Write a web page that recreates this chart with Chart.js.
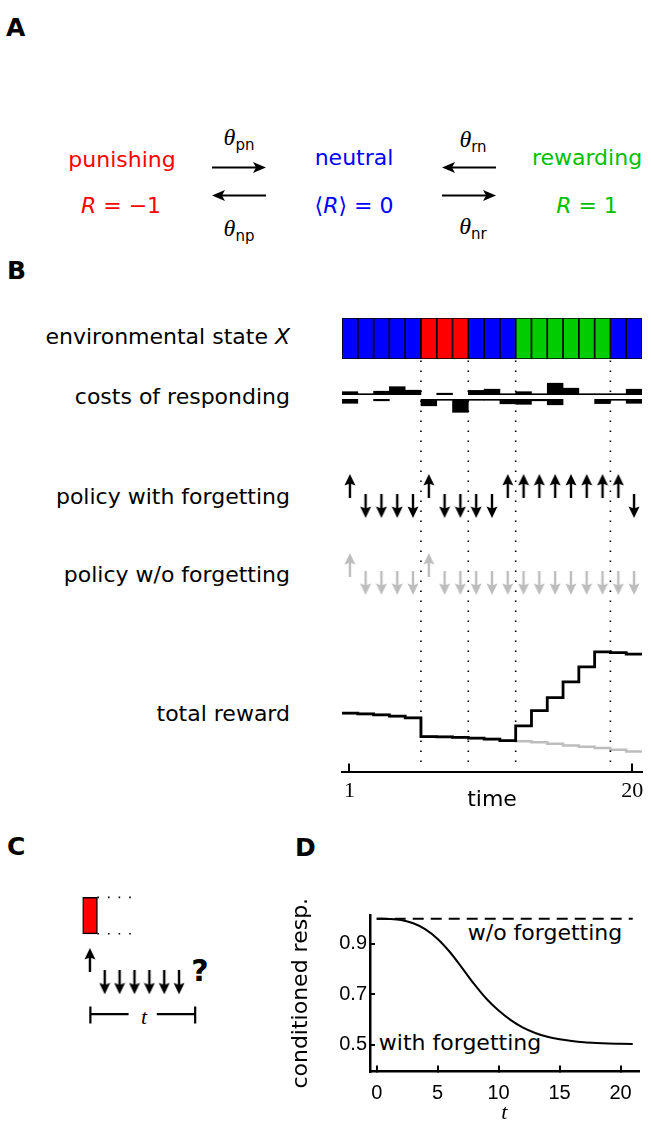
<!DOCTYPE html>
<html>
<head>
<meta charset="utf-8">
<script src="https://cdn.jsdelivr.net/npm/chart.js"></script>
<style>
body { margin: 0; background: #fff; }
#fig { position: relative; width: 651px; height: 1135px; overflow: hidden; font-family: "DejaVu Sans", sans-serif; color: #000; }
#fig canvas { position: absolute; }
.t { position: absolute; white-space: nowrap; font-size: 22px; line-height: 1; transform: translate(-50%, -50%); }
.row { position: absolute; white-space: nowrap; font-size: 22px; line-height: 1; transform: translateY(-50%); right: 361px; }
.lab { position: absolute; font-weight: bold; font-size: 25px; line-height: 1; transform: translateY(-50%); }
.th { font-family: "Liberation Serif", serif; font-style: italic; font-size: 24px; }
.th sub { font-family: "DejaVu Sans", sans-serif; font-style: normal; font-size: 15px; vertical-align: -5px; }
.red { color: #ff0000; } .blue { color: #0000ff; } .green { color: #00c000; }
</style>
</head>
<body>
<div id="fig">
  <!-- panel A -->
  <div class="lab" style="left:6px;top:27px">A</div>
  <div class="t red" style="left:122px;top:160px">punishing</div>
  <div class="t red" style="left:121px;top:206px"><i>R</i> = −1</div>
  <div class="t blue" style="left:354px;top:158px">neutral</div>
  <div class="t blue" style="left:354px;top:206px">⟨<i>R</i>⟩ = 0</div>
  <div class="t green" style="left:587px;top:158px">rewarding</div>
  <div class="t green" style="left:587px;top:206px"><i>R</i> = 1</div>
  <div class="t th" style="left:239px;top:139px">θ<sub>pn</sub></div>
  <div class="t th" style="left:239px;top:230px">θ<sub>np</sub></div>
  <div class="t th" style="left:473px;top:141px">θ<sub>rn</sub></div>
  <div class="t th" style="left:473px;top:228px">θ<sub>nr</sub></div>
  <svg width="651" height="260" style="position:absolute;left:0;top:0">
    <g stroke="#000" stroke-width="2">
      <line x1="212" y1="167.5" x2="258" y2="167.5"/>
      <line x1="220" y1="195.5" x2="266" y2="195.5"/>
      <line x1="450" y1="167.5" x2="496" y2="167.5"/>
      <line x1="442" y1="195.5" x2="488" y2="195.5"/>
    </g>
    <g fill="#000">
      <polygon points="266,167.5 253,162 256,167.5 253,173"/>
      <polygon points="212,195.5 225,190 222,195.5 225,201"/>
      <polygon points="442,167.5 455,162 452,167.5 455,173"/>
      <polygon points="496,195.5 483,190 486,195.5 483,201"/>
    </g>
  </svg>

  <!-- panel B -->
  <div class="lab" style="left:7px;top:270px">B</div>
  <div class="row" style="top:337px">environmental state <i>X</i></div>
  <div class="row" style="top:397px">costs of responding</div>
  <div class="row" style="top:497px">policy with forgetting</div>
  <div class="row" style="top:575px">policy w/o forgetting</div>
  <div class="row" style="top:714px">total reward</div>

  <!-- panel C -->
  <div class="lab" style="left:7px;top:846px">C</div>
  <div class="t" style="left:200px;top:971px;font-weight:bold;font-size:30px">?</div>
  <div class="t" style="left:144px;top:1017px;font-family:'Liberation Serif',serif;font-style:italic">t</div>

  <!-- panel D -->
  <div class="lab" style="left:295px;top:847px">D</div>
  <div class="t" style="left:545px;top:933px">w/o forgetting</div>
  <div class="t" style="left:460px;top:1043px">with forgetting</div>
</div>

<script>
// ---- panel B: 19 time steps ----
const cells = ['1', '2', '3', '4', '5', '6', '7', '8', '9', '10', '11', '12', '13', '14', '15', '16', '17', '18', '19'];
// n = neutral, p = punishing, r = rewarding
const stateSeq = ['n', 'n', 'n', 'n', 'n', 'p', 'p', 'p', 'n', 'n', 'n', 'r', 'r', 'r', 'r', 'r', 'r', 'n', 'n'];
const costTop = [3, 1, 3.5, 8, 4.5, 0, 1.5, 0, 4.3, 5.5, 1, 3, 1, 11.5, 6.5, 1, 1, 1, 5.5];
const costBottom = [4, 0, 1.5, 0, 0, 6.5, 1, 13, 1, 1, 4.5, 5, 1.5, 5.5, 0, 0, 4.3, 1, 4];
// 1 = respond (up arrow), -1 = withhold (down arrow)
const policyForget = [1, -1, -1, -1, -1, 1, -1, -1, -1, -1, 1, 1, 1, 1, 1, 1, 1, 1, -1];
const policyNoForget = [1, -1, -1, -1, -1, 1, -1, -1, -1, -1, -1, -1, -1, -1, -1, -1, -1, -1, -1];
const rewardForget = [0, -0.05, -0.11, -0.2, -0.31, -1.56, -1.58, -1.61, -1.67, -1.73, -1.83, -0.85, 0.17, 1.04, 2.1, 3.1, 4.1, 4.05, 3.95];
const rewardNoForget = [0, -0.05, -0.11, -0.2, -0.31, -1.56, -1.58, -1.61, -1.67, -1.73, -1.83, -1.88, -1.95, -2.05, -2.16, -2.25, -2.33, -2.45, -2.56];
const timeTicks = [1, 20];

// ---- panel C ----
const cState = ['p'];
const cPolicy = [1, -1, -1, -1, -1, -1, -1];

// ---- panel D ----
const dTimes = [0, 1, 2, 3, 4, 5, 6, 7, 8, 9, 10, 11, 12, 13, 14, 15, 16, 17, 18, 19, 20, 21];
const dForget = [1.0, 0.999, 0.995, 0.982, 0.958, 0.92, 0.868, 0.805, 0.74, 0.682, 0.635, 0.597, 0.567, 0.546, 0.531, 0.521, 0.514, 0.509, 0.506, 0.504, 0.503, 0.502];
const dNoForgetTimes = [0, 21];
const dNoForget = [1.0, 1.0];
const dXTicks = [0, 5, 10, 15, 20];
const dYTicks = [0.5, 0.7, 0.9];

Chart.defaults.animation = false;
Chart.defaults.responsive = false;
Chart.defaults.font.family = 'DejaVu Sans';
Chart.defaults.color = '#000';
Chart.defaults.plugins.legend.display = false;
Chart.defaults.plugins.tooltip.enabled = false;

const fig = document.getElementById('fig');
const stateColor = { n: '#0000ff', p: '#ff0000', r: '#00cc00' };
const PADB = { left: 20, right: 20, top: 0, bottom: 0 };

function mk(left, top, w, h) {
  const c = document.createElement('canvas');
  c.width = w; c.height = h;
  c.style.left = left + 'px'; c.style.top = top + 'px';
  c.style.width = w + 'px'; c.style.height = h + 'px';
  fig.appendChild(c);
  return c;
}
const hid = (min, max) => ({ type: 'linear', display: false, offset: false, min: min, max: max });

function arrowImg(color) {
  const c = document.createElement('canvas');
  c.width = 12; c.height = 24;
  const g = c.getContext('2d');
  g.fillStyle = color;
  g.beginPath();
  g.moveTo(6, 0); g.lineTo(11.5, 11.5); g.lineTo(6, 9.5); g.lineTo(0.5, 11.5);
  g.closePath(); g.fill();
  g.fillRect(4.8, 7, 2.4, 17);
  return c;
}
const upBlack = arrowImg('#000');
const upGray = arrowImg('#bdbdbd');

// environmental state bar
new Chart(mk(322, 318, 340, 41), {
  type: 'bar',
  data: {
    labels: cells,
    datasets: [{
      data: stateSeq.map(() => 1),
      backgroundColor: stateSeq.map(s => stateColor[s]),
      borderColor: '#000', borderWidth: 1.2, borderSkipped: false,
      barPercentage: 1, categoryPercentage: 1
    }]
  },
  options: { layout: { padding: PADB }, scales: { x: { display: false }, y: hid(0, 1) } }
});

// costs of responding (upper and lower rows)
const GAP = 2.3;
new Chart(mk(322, 377, 340, 40), {
  type: 'bar',
  data: {
    labels: cells,
    datasets: [
      { data: costTop.map(v => v ? [GAP, GAP + v] : null), backgroundColor: '#000', grouped: false, barPercentage: 1, categoryPercentage: 1 },
      { data: costBottom.map(v => v ? [-GAP - v, -GAP] : null), backgroundColor: '#000', grouped: false, barPercentage: 1, categoryPercentage: 1 }
    ]
  },
  options: { layout: { padding: PADB }, scales: { x: { display: false }, y: hid(-20, 20) } }
});

// policies
function policyChart(top, arr, img, ymax) {
  new Chart(mk(322, top, 340, 62), {
    type: 'scatter',
    data: {
      datasets: [{
        data: arr.map((d, i) => ({ x: i + 1, y: d })),
        pointStyle: img,
        rotation: c => arr[c.dataIndex] < 0 ? 180 : 0,
        clip: false
      }]
    },
    options: { layout: { padding: PADB }, scales: { x: hid(0.5, 19.5), y: hid(-ymax, ymax) } }
  });
}
policyChart(465, policyForget, upBlack, 2.6);
policyChart(543, policyNoForget, upGray, 2.9);

// total reward with time axis
const stepPts = arr => arr.map((v, i) => ({ x: i + 0.5, y: v })).concat([{ x: arr.length + 0.5, y: arr[arr.length - 1] }]);
new Chart(mk(322, 640, 340, 173), {
  type: 'line',
  data: {
    datasets: [
      { data: stepPts(rewardForget), borderColor: '#000', borderWidth: 2.8, stepped: 'before', pointRadius: 0, xAxisID: 'x', clip: false },
      { data: stepPts(rewardNoForget), borderColor: '#bdbdbd', borderWidth: 2.5, stepped: 'before', pointRadius: 0, xAxisID: 'x', clip: false }
    ]
  },
  options: {
    layout: { padding: PADB },
    scales: {
      x: hid(0.5, 19.5),
      y: hid(-3.9, 4.9),
      xt: {
        type: 'linear', position: 'bottom', min: 0.5, max: 20.65,
        afterBuildTicks: s => { s.ticks = timeTicks.map(v => ({ value: v })); },
        afterFit: s => { s.height = 41.5; },
        grid: { drawOnChartArea: false, tickLength: -8, color: '#000', lineWidth: 2 },
        border: { color: '#000', width: 2 },
        ticks: { padding: 14.3, autoSkip: false, maxRotation: 0, font: { family: 'Liberation Serif', size: 22 } },
        title: { display: true, text: 'time', font: { size: 22 }, padding: 0 }
      }
    }
  }
});

// dotted lines at state changes
const changes = [];
stateSeq.forEach((s, i) => { if (i && s !== stateSeq[i - 1]) changes.push(i + 0.5); });
new Chart(mk(322, 360, 340, 402), {
  type: 'line',
  data: {
    datasets: changes.map(b => ({
      data: [{ x: b, y: 0 }, { x: b, y: 1 }],
      borderColor: '#000', borderWidth: 1.6, borderDash: [1.6, 8.4], pointRadius: 0
    }))
  },
  options: { layout: { padding: PADB }, scales: { x: hid(0.5, 19.5), y: hid(0, 1) } }
});

// panel C schematic
new Chart(mk(75, 885, 150, 150), {
  type: 'scatter',
  data: {
    datasets: [
      {
        type: 'bar',
        data: cState.map((s, i) => ({ x: i + 1, y: [6.87, 9.47] })),
        backgroundColor: cState.map(s => stateColor[s]),
        borderColor: '#000', borderWidth: 1.5, borderSkipped: false, barThickness: 15
      },
      {
        data: cPolicy.map((d, i) => ({ x: i + 1, y: 4.2 + 0.8 * d })),
        pointStyle: upBlack,
        rotation: c => cPolicy[c.dataIndex] < 0 ? 180 : 0,
        clip: false
      },
      { type: 'line', data: [{ x: 1.5, y: 9.47 }, { x: 3.8, y: 9.47 }], borderColor: '#000', borderWidth: 1.6, borderDash: [1.6, 9], pointRadius: 0 },
      { type: 'line', data: [{ x: 1.5, y: 6.87 }, { x: 3.8, y: 6.87 }], borderColor: '#000', borderWidth: 1.6, borderDash: [1.6, 9], pointRadius: 0 },
      {
        type: 'line',
        data: [{ x: 1.03, y: 1.67 }, { x: 1.03, y: 0.47 }, { x: 1.03, y: 1.13 }, { x: 3.6, y: 1.13 }, { x: 4.4, y: null },
               { x: 5.5, y: 1.13 }, { x: 8.08, y: 1.13 }, { x: 8.08, y: 1.67 }, { x: 8.08, y: 0.47 }],
        borderColor: '#000', borderWidth: 2.2, pointRadius: 0, spanGaps: false
      }
    ]
  },
  options: { layout: { padding: { left: 7.5, right: 0, top: 0, bottom: 0 } }, scales: { x: hid(0.5, 9.75), y: hid(0, 10) } }
});

// panel D
new Chart(mk(280, 895, 368, 231), {
  type: 'line',
  data: {
    datasets: [
      { data: dTimes.map((t, i) => ({ x: t, y: dForget[i] })), borderColor: '#000', borderWidth: 2, pointRadius: 0, cubicInterpolationMode: 'monotone' },
      { data: dNoForgetTimes.map((t, i) => ({ x: t, y: dNoForget[i] })), borderColor: '#000', borderWidth: 2, borderDash: [11, 7], pointRadius: 0 }
    ]
  },
  options: {
    layout: { padding: { left: 0, right: 8, top: 10, bottom: 0 } },
    scales: {
      x: {
        type: 'linear', min: -0.55, max: 21.5,
        afterBuildTicks: s => { s.ticks = dXTicks.map(v => ({ value: v })); },
        afterFit: s => { s.height = 54.5; },
        grid: { drawOnChartArea: false, tickLength: -6, color: '#000', lineWidth: 2 },
        border: { color: '#000', width: 2.5 },
        ticks: { padding: 15.8, autoSkip: false, maxRotation: 0, font: { family: 'Liberation Sans', size: 20 } },
        title: { display: true, text: 't', font: { family: 'Liberation Serif', style: 'italic', size: 22 }, padding: 0 }
      },
      y: {
        type: 'linear', min: 0.393, max: 1.015,
        afterBuildTicks: s => { s.ticks = dYTicks.map(v => ({ value: v })); },
        afterFit: s => { s.width = 90; },
        grid: { drawOnChartArea: false, tickLength: -5, color: '#000', lineWidth: 2 },
        border: { color: '#000', width: 2.5 },
        ticks: { padding: 8, font: { family: 'Liberation Sans', size: 20 }, callback: v => v.toFixed(1) },
        title: { display: true, text: 'conditioned resp.', font: { size: 22 }, padding: { top: 7.8, bottom: 0 } }
      }
    }
  }
});
</script>
</body>
</html>
